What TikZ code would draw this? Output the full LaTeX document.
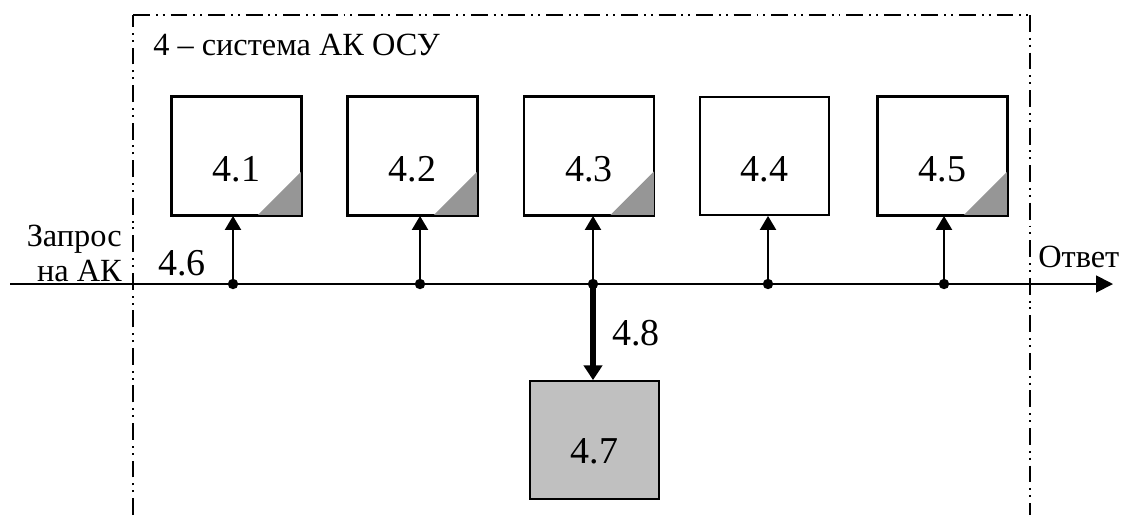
\documentclass[tikz,border=0pt]{standalone}
\usepackage{fontspec}
\setmainfont{Liberation Serif}
\usetikzlibrary{arrows.meta}

\tikzset{
  boundary/.style={line width=1pt, dash pattern=on 12pt off 4.2pt on 1.4pt off 3.5pt on 1.4pt off 4.2pt},
  blockbox/.style={draw, line width=1.3pt, minimum width=3.225cm, minimum height=2.95cm, inner sep=0pt},
  storebox/.style={blockbox, fill=storegray},
  blocklabel/.style={font=\fontsize{27}{30}\selectfont, anchor=base, inner sep=0pt},
  plaintext/.style={font=\fontsize{23}{26}\selectfont, inner sep=0pt},
  busline/.style={line width=1.3pt},
  tap/.style={line width=1.3pt, -{Triangle[length=10pt, width=11.5pt]}},
  heavy/.style={line width=4.8pt, -{Triangle[length=10.5pt, width=13pt]}},
  junction/.style={circle, fill=black, minimum size=0.26cm, inner sep=0pt},
  corner/.style={fill=cornergray}
}
\definecolor{storegray}{HTML}{C0C0C0}
\definecolor{cornergray}{HTML}{969696}

\begin{document}
\begin{tikzpicture}[x=0.025cm, y=-0.025cm]
  \useasboundingbox (0,0) rectangle (1122,515);

  % system boundary (open at the bottom)
  \draw[boundary] (133,515) -- (133,15);
  \draw[boundary] (133,15) -- (1030,15);
  \draw[boundary] (1030,15) -- (1030,515);

  \node[plaintext, anchor=base west] (title) at (153,55) {4 – система АК ОСУ};

  % functional blocks
  \foreach \i/\cx in {1/236.5, 2/412.5, 3/589, 4/764.5, 5/942.5} {
    \node[blockbox] (b\i) at (\cx,156) {};
  }
  % shaded corner marks
  \foreach \i in {1,2,3,5} {
    \fill[corner] (b\i.south east) -- ++(-45,0) -- ++(45,-45) -- cycle;
    \draw[line width=1.3pt] (b\i.south west) rectangle (b\i.north east);
  }
  \foreach \i in {1,...,5} {
    \node[blocklabel] (l\i) at ([yshift=-0.63cm]b\i.center) {4.\i};
  }

  % storage block
  \node[storebox] (b7) at (594.5,440) {};
  \node[blocklabel] (l7) at ([yshift=-0.575cm]b7.center) {4.7};

  % common bus
  \coordinate (busin) at (10,284);
  \coordinate (busout) at (1113,284);
  \draw[busline, -{Triangle[length=12pt, width=12pt]}] (busin) -- (busout);

  \node[plaintext, anchor=base east] (req1) at (122,246) {Запрос};
  \node[plaintext, anchor=base east] (req2) at (122,281) {на АК};
  \node[plaintext, anchor=base west] (resp) at (1038,267) {Ответ};
  \node[blocklabel] (busname) at (182,275) {4.6};

  % bus taps
  \foreach \i/\x in {1/233, 2/420, 3/593, 4/768, 5/944} {
    \node[junction] (d\i) at (\x,284) {};
    \draw[tap] (d\i.center) -- (d\i.center |- b\i.south);
  }

  % link to storage
  \draw[heavy] (d3.center) -- (d3.center |- b7.north);
  \node[blocklabel] (linkname) at (636,345) {4.8};
\end{tikzpicture}
\end{document}
